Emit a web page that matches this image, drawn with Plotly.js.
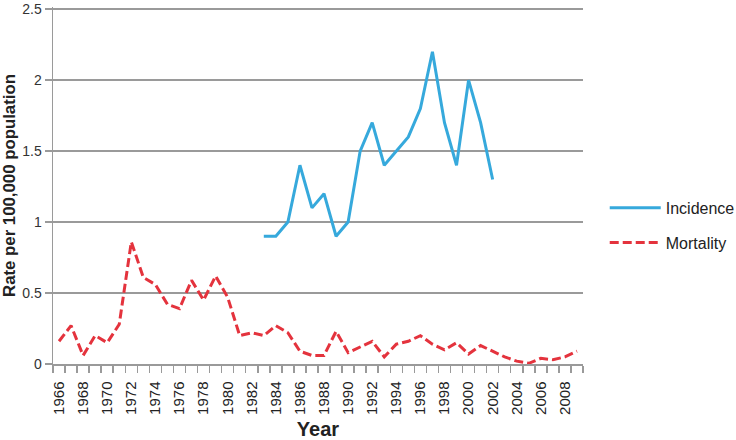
<!DOCTYPE html>
<html>
<head>
<meta charset="utf-8">
<script src="https://cdn.plot.ly/plotly-3.0.1.min.js"></script>
<style>html,body{margin:0;padding:0;background:#fff;}#chart{width:736px;height:440px;}</style>
</head>
<body>
<div id="chart"></div>
<script>
var incidenceYears = [1983,1984,1985,1986,1987,1988,1989,1990,1991,1992,1993,1994,1995,1996,1997,1998,1999,2000,2001,2002];
var incidenceValues = [0.9,0.9,1.0,1.4,1.1,1.2,0.9,1.0,1.5,1.7,1.4,1.5,1.6,1.8,2.2,1.7,1.4,2.0,1.7,1.3];

var mortalityYears = [1966,1967,1968,1969,1970,1971,1972,1973,1974,1975,1976,1977,1978,1979,1980,1981,1982,1983,1984,1985,1986,1987,1988,1989,1990,1991,1992,1993,1994,1995,1996,1997,1998,1999,2000,2001,2002,2003,2004,2005,2006,2007,2008,2009];
var mortalityValues = [0.16,0.27,0.06,0.20,0.15,0.28,0.86,0.61,0.56,0.42,0.39,0.59,0.45,0.62,0.47,0.20,0.22,0.20,0.27,0.22,0.09,0.06,0.06,0.23,0.08,0.12,0.16,0.05,0.14,0.16,0.20,0.14,0.10,0.15,0.07,0.13,0.09,0.05,0.02,0.005,0.04,0.03,0.05,0.09];

var xTickYears = [1966,1968,1970,1972,1974,1976,1978,1980,1982,1984,1986,1988,1990,1992,1994,1996,1998,2000,2002,2004,2006,2008];
var yTickValues = [0,0.5,1,1.5,2,2.5];
var yTickLabels = ['0','0.5','1','1.5','2','2.5'];

var traces = [
  {x: incidenceYears, y: incidenceValues, name: 'Incidence', type: 'scatter', mode: 'lines',
   legendgroup: 'a', line: {color: '#36a9dc', width: 3}},
  {x: mortalityYears, y: mortalityValues, name: 'Mortality', type: 'scatter', mode: 'lines',
   legendgroup: 'b', line: {color: '#e4333d', width: 3, dash: '9px,4px'}}
];

var layout = {
  width: 736, height: 440,
  margin: {l: 53, r: 153, t: 7, b: 76, pad: 0, autoexpand: false},
  paper_bgcolor: '#fff', plot_bgcolor: '#fff',
  font: {family: 'Liberation Sans, Arial, sans-serif', color: '#333'},
  showlegend: true,
  legend: {x: 1.041, xanchor: 'left', y: 0.485, yanchor: 'top', traceorder: 'grouped', tracegroupgap: 11,
           itemwidth: 51, font: {size: 16, color: '#222'}, bgcolor: 'rgba(0,0,0,0)'},
  xaxis: {
    range: [1965.5, 2009.5], tickmode: 'array', tickvals: xTickYears, ticktext: xTickYears.map(String),
    tickangle: -90, tickfont: {size: 15, color: '#222'}, ticks: '', ticklabelstandoff: 10, showgrid: false, zeroline: false,
    showline: true, linecolor: '#9a9a9a', linewidth: 1.5, ticklabeloverflow: 'allow',
    minor: {tick0: 1965.5, dtick: 1, ticks: 'outside', ticklen: 7, tickcolor: '#9a9a9a', tickwidth: 1.5, showgrid: false},
    title: {text: 'Year', font: {size: 20, color: '#222', family: 'Liberation Sans, Arial, sans-serif', weight: 'bold'}, standoff: 13},
    fixedrange: true
  },
  yaxis: {
    range: [0, 2.515], tickmode: 'array', tickvals: yTickValues, ticktext: yTickLabels,
    tickfont: {size: 14, color: '#333'}, ticks: 'outside', ticklen: 7, tickcolor: '#9a9a9a', tickwidth: 1.5,
    showgrid: true, gridcolor: '#9a9a9a', gridwidth: 1.5, zeroline: false, ticklabeloverflow: 'allow',
    showline: true, linecolor: '#9a9a9a', linewidth: 1.5,
    title: {text: 'Rate per 100,000 population', font: {size: 16.8, color: '#222', family: 'Liberation Sans, Arial, sans-serif', weight: 'bold'}, standoff: 8},
    fixedrange: true
  }
};

Plotly.newPlot('chart', traces, layout, {displayModeBar: false, staticPlot: true});
</script>
</body>
</html>
